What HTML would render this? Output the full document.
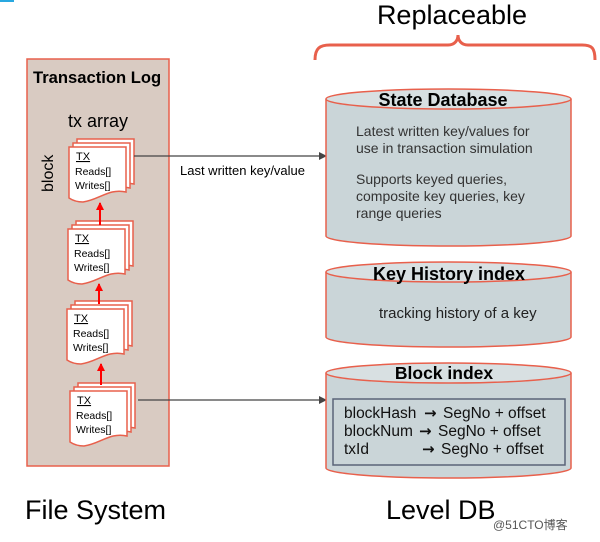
<!DOCTYPE html>
<html><head><meta charset="utf-8"><style>
html,body{margin:0;padding:0;background:#fff;width:600px;height:542px;overflow:hidden}
svg{display:block;font-family:"Liberation Sans",sans-serif}
.ar{font-family:"DejaVu Sans",sans-serif}
</style></head><body>
<svg width="600" height="542" viewBox="0 0 600 542" xmlns="http://www.w3.org/2000/svg">
<defs>
<g id="pg"><path d="M0 0 H57 V45 C40 41 30 53 14 55 C8 55 3 53 0 51 Z" fill="#fff" stroke="#e8604c" stroke-width="1.5"/></g>
<g id="stk">
<use href="#pg" x="8" y="-8"/><use href="#pg" x="4" y="-4"/><use href="#pg" x="0" y="0"/>
<text x="7" y="13" font-size="11" text-decoration="underline">TX</text>
<text x="6" y="28" font-size="10.5">Reads[]</text>
<text x="6" y="42" font-size="10.5">Writes[]</text>
</g>
<marker id="ar" markerWidth="8" markerHeight="8" refX="7" refY="4" orient="auto" markerUnits="userSpaceOnUse"><path d="M0 0 L8 4 L0 8 Z" fill="#444"/></marker>
<marker id="rr" markerWidth="8" markerHeight="8" refX="7" refY="4" orient="auto" markerUnits="userSpaceOnUse"><path d="M0 0 L8 4 L0 8 Z" fill="#f00"/></marker>
</defs>
<rect x="0" y="0" width="14" height="2" fill="#29a8e0"/>
<text x="452" y="24" font-size="27" text-anchor="middle">Replaceable</text>
<path d="M315 60 C315 48 320 45 330 45 H448 C455 45 458 40 458 35 C458 40 461 45 468 45 H582 C592 45 595 48 595 60" fill="none" stroke="#e8604c" stroke-width="3"/>
<rect x="27" y="59" width="142" height="407" fill="#d9cbc2" stroke="#e8604c" stroke-width="1.5"/>
<text x="33" y="83" font-size="16.6" font-weight="bold">Transaction Log</text>
<text x="68" y="127" font-size="18">tx array</text>
<text transform="translate(53 192) rotate(-90)" font-size="16">block</text>
<use href="#stk" x="69" y="147"/>
<use href="#stk" x="68" y="229"/>
<use href="#stk" x="67" y="309"/>
<use href="#stk" x="70" y="391"/>
<g stroke="#f00" stroke-width="2" marker-end="url(#rr)">
<line x1="100" y1="225" x2="100" y2="203"/>
<line x1="99" y1="304" x2="99" y2="284"/>
<line x1="101" y1="385" x2="101" y2="364"/>
</g>
<line x1="134" y1="156" x2="326" y2="156" stroke="#444" stroke-width="1.3" marker-end="url(#ar)"/>
<text x="180" y="175" font-size="13">Last written key/value</text>
<line x1="138" y1="400" x2="326" y2="400" stroke="#444" stroke-width="1.3" marker-end="url(#ar)"/>
<g fill="#cad5d8" stroke="#e8604c" stroke-width="1.5">
<path d="M326 99 V236 A122.5 10 0 0 0 571 236 V99"/>
<ellipse cx="448.5" cy="99" rx="122.5" ry="10" fill="#d8e0e2"/>
<path d="M326 272 V337 A122.5 10 0 0 0 571 337 V272"/>
<ellipse cx="448.5" cy="272" rx="122.5" ry="10" fill="#d8e0e2"/>
<path d="M326 373 V468 A122.5 10 0 0 0 571 468 V373"/>
<ellipse cx="448.5" cy="373" rx="122.5" ry="10" fill="#d8e0e2"/>
</g>
<text x="443" y="106" font-size="18" font-weight="bold" text-anchor="middle">State Database</text>
<g font-size="14" fill="#333">
<text x="356" y="136">Latest written key/values for</text>
<text x="356" y="153">use in transaction simulation</text>
<text x="356" y="184">Supports keyed queries,</text>
<text x="356" y="201">composite key queries, key</text>
<text x="356" y="218">range queries</text>
</g>
<text x="449" y="280" font-size="18" font-weight="bold" text-anchor="middle">Key History index</text>
<text x="379" y="318" font-size="15" fill="#222">tracking history of a key</text>
<text x="444" y="379" font-size="17.5" font-weight="bold" text-anchor="middle">Block index</text>
<rect x="333" y="399" width="232" height="66" fill="#cad5d8" stroke="#5a6478" stroke-width="1.5"/>
<g font-size="15.5" fill="#111">
<text x="344" y="418">blockHash</text><text x="424" y="418" class="ar" font-size="15" font-weight="bold">→</text><text x="443" y="418">SegNo + offset</text>
<text x="344" y="436">blockNum</text><text x="419" y="436" class="ar" font-size="15" font-weight="bold">→</text><text x="438" y="436">SegNo + offset</text>
<text x="344" y="454">txId</text><text x="422" y="454" class="ar" font-size="15" font-weight="bold">→</text><text x="441" y="454">SegNo + offset</text>
</g>
<text x="25" y="519" font-size="27">File System</text>
<text x="386" y="519" font-size="27">Level DB</text>
<text x="493" y="529" font-size="12" fill="#555" font-family="Liberation Sans,Noto Sans CJK SC,sans-serif">@51CTO博客</text>
</svg>
</body></html>
